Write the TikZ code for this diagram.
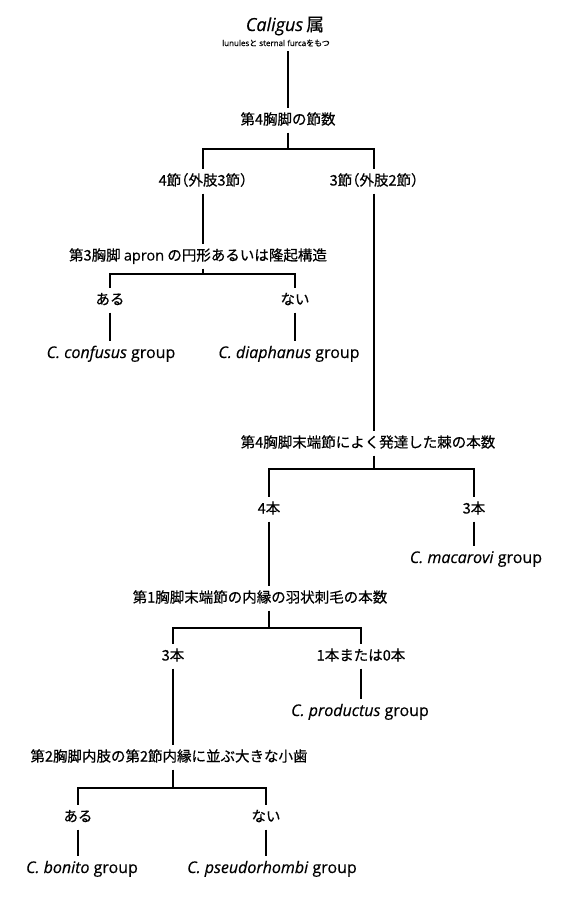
\documentclass[tikz,border=0pt]{standalone}
\usepackage{fontspec}
\setmainfont{Open Sans}[FakeBold=0.35]
\newfontfamily\jp{Noto Sans CJK JP}[FakeBold=0.45]
\newcommand\hlf[1]{{\addfontfeatures{RawFeature=+halt}#1}}
\begin{document}
\begin{tikzpicture}[x=1pt,y=-1pt,
  lbl/.style={font={\jp\fontsize{14.5pt}{17pt}\selectfont}, inner sep=0pt, outer sep=6pt, text height=11pt, text depth=2pt},
  grp/.style={font={\fontsize{16pt}{19pt}\selectfont}, inner sep=0pt, outer sep=6pt, text height=11.5pt, text depth=3.5pt},
  conn/.style={line width=1.7pt}]
\useasboundingbox (0,0) rectangle (560,897);
% title
\node[inner sep=0pt, font={\fontsize{18pt}{21pt}\selectfont}] (top) at (285,26) {\textit{Caligus}\,{\jp 属}};
\node[inner sep=0pt, outer sep=5pt, font={\fontsize{8pt}{10pt}\selectfont}] (sub) at (276,43) {lunules{\jp と} sternal furca{\jp をもつ}};
% level 1
\node[lbl] (A) at (288,120) {第4胸脚の節数};
\coordinate (jA) at (288,149);
\node[lbl] (B1) at (203,181) {4節\hlf{（}外肢3節\hlf{）}};
\node[lbl] (B2) at (374,181) {3節\hlf{（}外肢2節\hlf{）}};
% left branch
\node[lbl] (C) at (198,256) {第3胸脚 {\fontspec{Open Sans}[FakeBold=0.35]apron} の円形あるいは隆起構造};
\coordinate (jC) at (203,274);
\node[lbl] (D1) at (110,300) {ある};
\node[lbl] (D2) at (295,300) {ない};
\node[grp] (E1) at (111,354) {\textit{C. confusus} group};
\node[grp] (E2) at (289,354) {\textit{C. diaphanus} group};
% right branch
\node[lbl] (F) at (368,443) {第4胸脚末端節によく発達した棘の本数};
\coordinate (jF) at (374,469);
\node[lbl] (G1) at (269,509) {4本};
\node[lbl] (G2) at (474,509) {3本};
\node[grp] (H2) at (476,559) {\textit{C. macarovi} group};
\node[lbl] (I) at (260,598) {第1胸脚末端節の内縁の羽状刺毛の本数};
\coordinate (jI) at (269,628);
\node[lbl] (J1) at (173,656) {3本};
\node[lbl] (J2) at (361,656) {1本または0本};
\node[grp] (K2) at (360,712) {\textit{C. productus} group};
\node[lbl] (L) at (169,757) {第2胸脚内肢の第2節内縁に並ぶ大きな小歯};
\coordinate (jL) at (173,788);
\node[lbl] (M1) at (78,817) {ある};
\node[lbl] (M2) at (266,817) {ない};
\node[grp] (N1) at (82,869) {\textit{C. bonito} group};
\node[grp] (N2) at (272,869) {\textit{C. pseudorhombi} group};
% connectors
\draw[conn] (A.north |- sub.south) -- (A.north);
\draw[conn] (A.south) -- (jA);
\draw[conn] (B1.north) |- (jA) -| (B2.north);
\draw[conn] (B1.south) -- (B1.south |- C.north);
\draw[conn] (C.south -| jC) -- (jC);
\draw[conn] (D1.north) |- (jC) -| (D2.north);
\draw[conn] (D1.south) -- (D1.south |- E1.north);
\draw[conn] (D2.south) -- (D2.south |- E2.north);
\draw[conn] (B2.south) -- (B2.south |- F.north);
\draw[conn] (F.south -| jF) -- (jF);
\draw[conn] (G1.north) |- (jF) -| (G2.north);
\draw[conn] (G2.south) -- (G2.south |- H2.north);
\draw[conn] (G1.south) -- (G1.south |- I.north);
\draw[conn] (I.south -| jI) -- (jI);
\draw[conn] (J1.north) |- (jI) -| (J2.north);
\draw[conn] (J2.south) -- (J2.south |- K2.north);
\draw[conn] (J1.south) -- (J1.south |- L.north);
\draw[conn] (L.south -| jL) -- (jL);
\draw[conn] (M1.north) |- (jL) -| (M2.north);
\draw[conn] (M1.south) -- (M1.south |- N1.north);
\draw[conn] (M2.south) -- (M2.south |- N2.north);
\end{tikzpicture}
\end{document}
